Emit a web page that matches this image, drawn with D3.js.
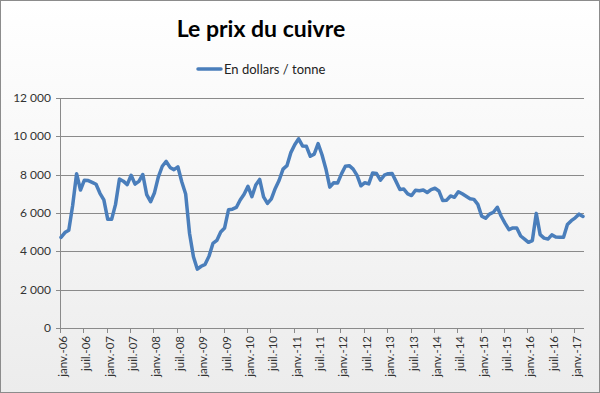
<!DOCTYPE html>
<html>
<head>
<meta charset="utf-8">
<script src="https://cdn.jsdelivr.net/npm/d3@7"></script>
<style>
  body { margin: 0; }
  svg { display: block; }
  text { font-family: Lato, "Open Sans", sans-serif; }
</style>
</head>
<body>
<svg width="600" height="393"></svg>
<script>
"use strict";

// monthly copper price, janv. 2006 -> mars 2017 (USD / tonne)
const years = ["06", "07", "08", "09", "10", "11", "12", "13", "14", "15", "16", "17"];
const prices = [
  4730, 4980, 5100, 6400, 8050, 7200, 7710, 7690, 7600, 7500, 7030, 6680,
  5670, 5670, 6450, 7770, 7660, 7480, 7970, 7510, 7650, 8010, 6960, 6590,
  7060, 7890, 8440, 8690, 8380, 8260, 8410, 7630, 6990, 4930, 3720, 3070,
  3220, 3320, 3750, 4410, 4570, 5010, 5220, 6170, 6200, 6290, 6680, 6980,
  7390, 6850, 7460, 7750, 6840, 6500, 6740, 7280, 7710, 8290, 8470, 9150,
  9560, 9870, 9500, 9480, 8960, 9070, 9620, 9040, 8300, 7350, 7580, 7560,
  8040, 8440, 8470, 8290, 7960, 7420, 7580, 7520, 8090, 8060, 7710, 7970,
  8050, 8060, 7650, 7230, 7250, 7000, 6910, 7190, 7160, 7200, 7070, 7220,
  7290, 7150, 6650, 6670, 6890, 6820, 7110, 7000, 6870, 6740, 6710, 6450,
  5830, 5730, 5940, 6040, 6300, 5830, 5460, 5130, 5220, 5220, 4800, 4640,
  4470, 4560, 5980, 4870, 4690, 4640, 4860, 4750, 4730, 4730, 5400, 5600,
  5750, 5940, 5820
];
const yTicks = [0, 2000, 4000, 6000, 8000, 10000, 12000];
const title = "Le prix du cuivre";
const seriesName = "En dollars / tonne";

// tick labels every 6 months
const tickIdx = [];
const tickLabels = [];
years.forEach((y, k) => {
  tickIdx.push(k * 12); tickLabels.push("janv.-" + y);
  if (k < years.length - 1) { tickIdx.push(k * 12 + 6); tickLabels.push("juil.-" + y); }
});

const svg = d3.select("svg");
const width = +svg.attr("width"), height = +svg.attr("height");

// background gradient
const grad = svg.append("defs").append("linearGradient")
  .attr("id", "bg").attr("x1", 0).attr("y1", 0).attr("x2", 0).attr("y2", 1);
grad.append("stop").attr("offset", "0%").attr("stop-color", "#ffffff");
grad.append("stop").attr("offset", "100%").attr("stop-color", "#ececec");

svg.append("rect")
  .attr("x", 0.5).attr("y", 0.5)
  .attr("width", width - 1).attr("height", height - 1)
  .attr("fill", "url(#bg)")
  .attr("stroke", "#8c8c8c");

const x = d3.scaleLinear().domain([0, prices.length - 1]).range([61, 583]);
const y = d3.scaleLinear().domain([0, 12000]).range([328, 98]);
const xLeft = 60, xRight = 584;

const fmt = v => d3.format(",")(v).replace(",", " ");

// grid
svg.append("g")
  .selectAll("line")
  .data(yTicks.filter(d => d > 0))
  .join("line")
  .attr("x1", xLeft).attr("x2", xRight)
  .attr("y1", d => Math.round(y(d)) + 0.5).attr("y2", d => Math.round(y(d)) + 0.5)
  .attr("stroke", "#8a8a8a").attr("stroke-width", 1);

// y axis
const yAxis = svg.append("g");
yAxis.append("line")
  .attr("x1", xLeft + 0.5).attr("x2", xLeft + 0.5)
  .attr("y1", y(12000)).attr("y2", y(0))
  .attr("stroke", "#8a8a8a");
yAxis.selectAll(".tk")
  .data(yTicks)
  .join("line")
  .attr("x1", xLeft - 4).attr("x2", xLeft)
  .attr("y1", d => Math.round(y(d)) + 0.5).attr("y2", d => Math.round(y(d)) + 0.5)
  .attr("stroke", "#8a8a8a");
yAxis.selectAll("text")
  .data(yTicks)
  .join("text")
  .attr("x", 51).attr("y", d => y(d) + 4)
  .attr("text-anchor", "end")
  .attr("font-size", 12)
  .attr("fill", "#333")
  .text(fmt);

// x axis
const xAxis = svg.append("g");
xAxis.append("line")
  .attr("x1", xLeft).attr("x2", xRight)
  .attr("y1", 328.5).attr("y2", 328.5)
  .attr("stroke", "#8a8a8a");
xAxis.selectAll(".tk")
  .data(tickIdx)
  .join("line")
  .attr("x1", d => Math.round(x(d)) - 0.5).attr("x2", d => Math.round(x(d)) - 0.5)
  .attr("y1", 328).attr("y2", 333)
  .attr("stroke", "#8a8a8a");
xAxis.selectAll("text")
  .data(tickIdx)
  .join("text")
  .attr("transform", d => "translate(" + (x(d) + 6) + ",336) rotate(-90)")
  .attr("text-anchor", "end")
  .attr("font-size", 11.5)
  .attr("fill", "#333")
  .text((d, i) => tickLabels[i]);

// the line
const line = d3.line()
  .x((d, i) => x(i))
  .y(d => y(d));

svg.append("path")
  .datum(prices)
  .attr("d", line)
  .attr("fill", "none")
  .attr("stroke", "#4a7ebb")
  .attr("stroke-width", 3.5)
  .attr("stroke-linejoin", "round")
  .attr("stroke-linecap", "round");

// title
svg.append("text")
  .attr("x", 261).attr("y", 37)
  .attr("text-anchor", "middle")
  .attr("font-size", 23)
  .attr("font-weight", "bold")
  .attr("fill", "#000")
  .text(title);

// legend
svg.append("line")
  .attr("x1", 198).attr("x2", 221)
  .attr("y1", 69).attr("y2", 69)
  .attr("stroke", "#4a7ebb")
  .attr("stroke-width", 3.5)
  .attr("stroke-linecap", "round");
svg.append("text")
  .attr("x", 224).attr("y", 74)
  .attr("font-size", 13)
  .attr("fill", "#222")
  .text(seriesName);
</script>
</body>
</html>
